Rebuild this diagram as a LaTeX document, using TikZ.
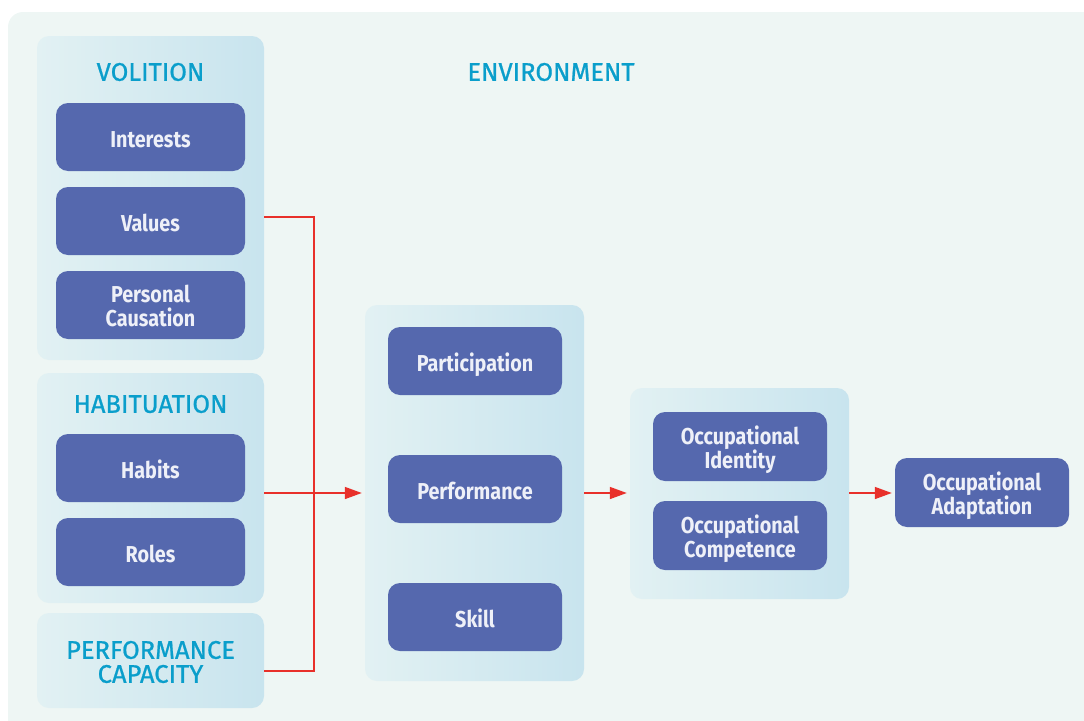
\documentclass[tikz,border=0pt]{standalone}
\usepackage{fontspec}
\setmainfont{Fira Sans}
\newfontfamily\boxfont[FakeStretch=0.86]{Fira Sans}
\newfontfamily\ttlfont[FakeBold=0.8]{Fira Sans}
\usetikzlibrary{arrows.meta,calc}
\definecolor{bgc}{HTML}{EEF6F4}
\definecolor{lightL}{HTML}{E2F1F3}
\definecolor{lightR}{HTML}{C8E4EE}
\definecolor{darkbox}{HTML}{5568AE}
\definecolor{boxtext}{HTML}{EEF0F8}
\definecolor{titlec}{HTML}{0A9ECB}
\definecolor{conred}{HTML}{E8302A}
\tikzset{
  panel/.style={rounded corners=12pt, left color=lightL, right color=lightR, draw=none, inner sep=0pt},
  dark/.style={rounded corners=12pt, fill=darkbox, draw=none, text=boxtext, align=center,
    font=\boxfont\bfseries\fontsize{23}{24}\selectfont, inner sep=0pt},
  oneline/.style={text height=20pt, text depth=0pt},
  twoline/.style={text height=43pt, text depth=0pt},
  ttl/.style={text=titlec, align=center, font=\ttlfont\fontsize{25.5}{24}\selectfont, inner sep=0pt},
  conn/.style={draw=conred, line width=1.5pt},
  arr/.style={conn, -{Triangle[length=17pt,width=12pt]}, shorten >=3pt},
}
\begin{document}
\begin{tikzpicture}[x=1pt,y=-1pt]
\useasboundingbox (0,0) rectangle (1084,720);
\clip (0,0) rectangle (1084,720);
\fill[bgc, rounded corners=15pt] (8,12) rectangle (1110,750);
% panels
\path[panel] (37,36) rectangle (264,360);
\node[minimum width=227, minimum height=324, inner sep=0pt] (volition) at (150.5,198) {};
\path[panel] (37,373) rectangle (264,603);
\node[minimum width=227, minimum height=230, inner sep=0pt] (habituation) at (150.5,488) {};
\path[panel] (37,613) rectangle (264,708);
\node[minimum width=227, minimum height=95, inner sep=0pt] (capacity) at (150.5,660.5) {};
\path[panel] (365,305) rectangle (584,681);
\node[minimum width=219, minimum height=376, inner sep=0pt] (mid) at (474.5,493) {};
\path[panel] (630,388) rectangle (849,599);
\node[minimum width=219, minimum height=211, inner sep=0pt] (occ) at (739.5,493) {};
% titles
\node[ttl] (tvol) at (150.5,72) {VOLITION};
\node[ttl] (thab) at (150.5,404) {HABITUATION};
\node[ttl] (tcap) at (150.5,662) {PERFORMANCE\\CAPACITY};
\node[ttl] (tenv) at (551,72) {ENVIRONMENT};
% dark boxes
\node[dark, oneline, minimum width=189, minimum height=68] (interests) at (150.5,137) {Interests};
\node[dark, oneline, minimum width=189, minimum height=68] (values) at (150.5,221) {Values};
\node[dark, twoline, minimum width=189, minimum height=68] (causation) at (150.5,305) {Personal\\Causation};
\node[dark, oneline, minimum width=189, minimum height=68] (habits) at (150.5,468) {Habits};
\node[dark, oneline, minimum width=189, minimum height=68] (roles) at (150.5,552) {Roles};
\node[dark, oneline, minimum width=174, minimum height=68] (participation) at (475,361) {Participation};
\node[dark, oneline, minimum width=174, minimum height=68] (performance) at (475,489) {Performance};
\node[dark, oneline, minimum width=174, minimum height=68] (skill) at (475,617) {Skill};
\node[dark, twoline, minimum width=174, minimum height=69] (identity) at (740,446.5) {Occupational\\Identity};
\node[dark, twoline, minimum width=174, minimum height=69] (competence) at (740,535.5) {Occupational\\Competence};
\node[dark, twoline, minimum width=174, minimum height=69] (adaptation) at (982,492.5) {Occupational\\Adaptation};
% connectors
\coordinate (j1) at (314,217);
\coordinate (j3) at (314,671);
\coordinate (v0) at (264,217);
\coordinate (c0) at (264,671);
\draw[conn] (v0) -- (j1) -- (j3) -- (c0);
\draw[arr] (habituation.east |- mid.west) -- (mid.west);
\draw[arr] (mid.east |- occ.west) -- (occ.west);
\draw[arr] (occ.east) -- (occ.east -| adaptation.west);
\end{tikzpicture}
\end{document}
